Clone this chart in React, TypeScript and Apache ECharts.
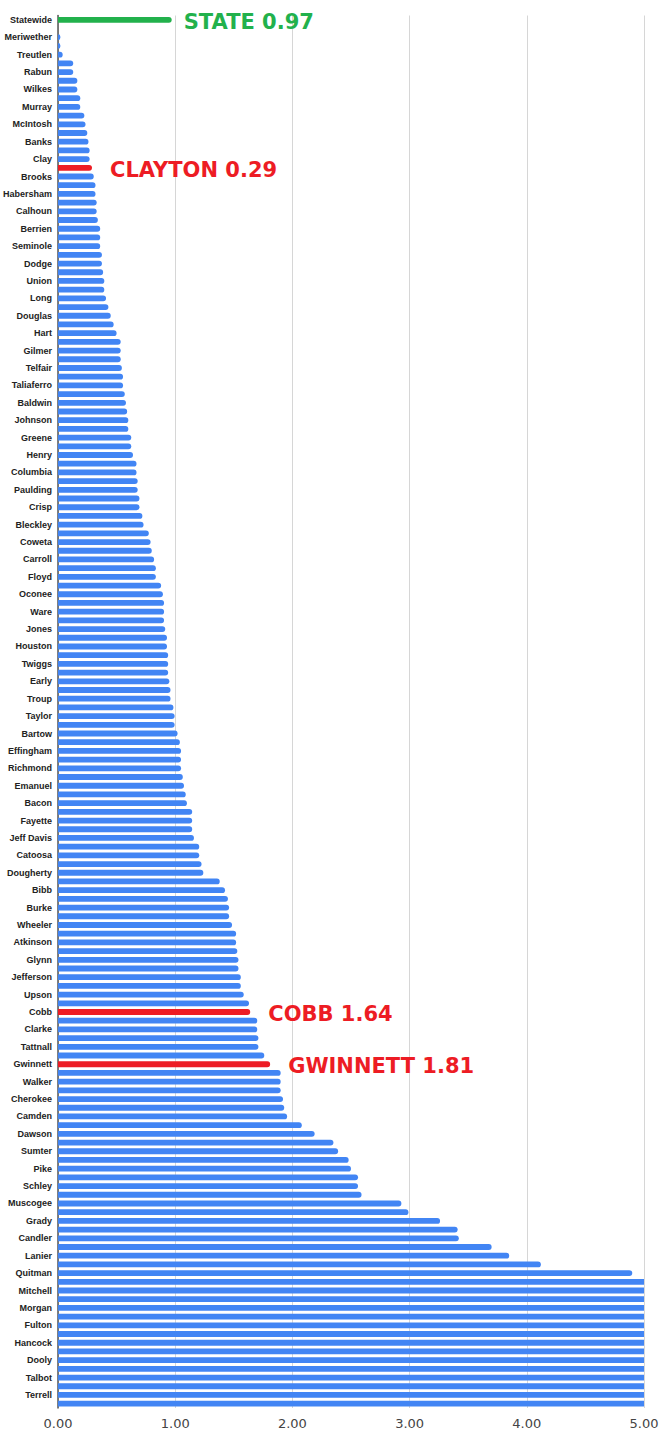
import { useEffect, useRef } from "react";
import * as echarts from "echarts";

// Category names shown on the axis (every other row)
const labeledNames = [
  "Statewide", "Meriwether", "Treutlen", "Rabun", "Wilkes", "Murray", "McIntosh", "Banks", "Clay", "Brooks",
  "Habersham", "Calhoun", "Berrien", "Seminole", "Dodge", "Union", "Long", "Douglas", "Hart", "Gilmer",
  "Telfair", "Taliaferro", "Baldwin", "Johnson", "Greene", "Henry", "Columbia", "Paulding", "Crisp", "Bleckley",
  "Coweta", "Carroll", "Floyd", "Oconee", "Ware", "Jones", "Houston", "Twiggs", "Early", "Troup",
  "Taylor", "Bartow", "Effingham", "Richmond", "Emanuel", "Bacon", "Fayette", "Jeff Davis", "Catoosa", "Dougherty",
  "Bibb", "Burke", "Wheeler", "Atkinson", "Glynn", "Jefferson", "Upson", "Cobb", "Clarke", "Tattnall",
  "Gwinnett", "Walker", "Cherokee", "Camden", "Dawson", "Sumter", "Pike", "Schley", "Muscogee", "Grady",
  "Candler", "Lanier", "Quitman", "Mitchell", "Morgan", "Fulton", "Hancock", "Dooly", "Talbot", "Terrell",
];

// Category names of the in-between rows (labels hidden by the axis interval)
const otherNames = [
  "Appling", "Baker", "Barrow", "Ben Hill", "Brantley", "Bryan", "Bulloch", "Butts", "Clayton", "Charlton",
  "Chatham", "Chattahoochee", "Chattooga", "Clinch", "Coffee", "Colquitt", "Cook", "Crawford", "Dade", "Decatur",
  "DeKalb", "Echols", "Elbert", "Evans", "Fannin", "Forsyth", "Franklin", "Glascock", "Gordon", "Hall",
  "Haralson", "Harris", "Heard", "Irwin", "Jackson", "Jasper", "Jenkins", "Lamar", "Laurens", "Lee",
  "Liberty", "Lincoln", "Lowndes", "Lumpkin", "Macon", "Madison", "Marion", "McDuffie", "Miller", "Monroe",
  "Montgomery", "Newton", "Oglethorpe", "Peach", "Pickens", "Pierce", "Polk", "Pulaski", "Putnam", "Randolph",
  "Rockdale", "Screven", "Spalding", "Stephens", "Stewart", "Tift", "Toombs", "Towns", "Turner", "Warren",
  "Washington", "Wayne", "Webster", "White", "Whitfield", "Wilcox", "Wilkinson", "Worth", "Walton", "Thomas",
];

// Values in row order (top to bottom)
const rates = [
  0.97, 0, 0.02, 0.02, 0.04, 0.13, 0.13, 0.165, 0.165, 0.19,
  0.19, 0.225, 0.235, 0.25, 0.26, 0.27, 0.27, 0.29, 0.305, 0.32,
  0.32, 0.33, 0.33, 0.34, 0.36, 0.36, 0.36, 0.375, 0.375, 0.385,
  0.395, 0.395, 0.41, 0.43, 0.45, 0.475, 0.5, 0.535, 0.535, 0.535,
  0.545, 0.555, 0.555, 0.57, 0.58, 0.59, 0.6, 0.6, 0.625, 0.625,
  0.64, 0.67, 0.67, 0.68, 0.68, 0.695, 0.695, 0.72, 0.73, 0.775,
  0.79, 0.8, 0.82, 0.835, 0.835, 0.88, 0.895, 0.905, 0.905, 0.905,
  0.915, 0.93, 0.93, 0.94, 0.94, 0.94, 0.95, 0.96, 0.96, 0.985,
  0.995, 0.995, 1.02, 1.04, 1.05, 1.05, 1.05, 1.065, 1.075, 1.09,
  1.1, 1.145, 1.145, 1.145, 1.16, 1.205, 1.205, 1.225, 1.24, 1.38,
  1.425, 1.45, 1.46, 1.46, 1.485, 1.52, 1.52, 1.53, 1.54, 1.54,
  1.56, 1.56, 1.585, 1.63, 1.64, 1.7, 1.7, 1.71, 1.71, 1.76,
  1.81, 1.9, 1.9, 1.9, 1.92, 1.93, 1.955, 2.08, 2.19, 2.35,
  2.39, 2.48, 2.5, 2.56, 2.56, 2.59, 2.93, 2.99, 3.26, 3.41,
  3.42, 3.7, 3.85, 4.12, 4.9, 5, 5, 5, 5, 5,
  5, 5, 5, 5, 5, 5, 5, 5, 5, 5,
];

const calloutNames = ["Statewide", "Clayton", "Cobb", "Gwinnett"];
const calloutTexts = ["STATE 0.97", "CLAYTON 0.29", "COBB 1.64", "GWINNETT 1.81"];

const axisMin = 0;
const axisMax = 5;
const axisStep = 1;

const categories = labeledNames.flatMap((n, i) => [n, otherNames[i]]);

const BLUE = "#4285F4";
const RED = "#ED1C24";
const GREEN = "#22B14C";

export default function App() {
  const ref = useRef<HTMLDivElement>(null);
  useEffect(() => {
    document.body.style.margin = "0";
    const chart = echarts.init(ref.current!, null, { renderer: "svg" });
    const data = rates.map((v, i) => {
      const name = categories[i];
      const ci = calloutNames.indexOf(name);
      const item: any = { value: v };
      if (v >= axisMax) item.itemStyle = { borderRadius: 0 };
      if (ci >= 0) {
        const color = ci === 0 ? GREEN : RED;
        item.itemStyle = { color };
        item.label = {
          show: true,
          formatter: calloutTexts[ci],
          color,
          fontSize: 21,
          fontWeight: "bold",
          fontFamily: "DejaVu Sans",
          position: "right",
          distance: ci === 0 ? 12 : 18,
          offset: [0, 2],
        };
      }
      return item;
    });
    chart.setOption({
      animation: false,
      grid: { left: 58, right: 19, top: 15.5, bottom: 24 },
      xAxis: {
        type: "value",
        min: axisMin,
        max: axisMax,
        interval: axisStep,
        axisLine: { show: false },
        axisTick: { show: false },
        splitLine: { lineStyle: { color: "#d6d6d6", width: 1 } },
        axisLabel: {
          formatter: (v: number) => v.toFixed(2),
          fontFamily: "DejaVu Sans",
          fontSize: 13,
          color: "#444",
          margin: 9,
        },
      },
      yAxis: {
        type: "category",
        inverse: true,
        data: categories,
        axisLine: { lineStyle: { color: "#555", width: 1.5 } },
        axisTick: { show: false },
        axisLabel: {
          interval: 1,
          fontSize: 9,
          fontWeight: "bold",
          fontFamily: "Liberation Sans",
          color: "#222",
          margin: 6,
        },
      },
      series: [
        {
          type: "bar",
          data,
          barWidth: 5.8,
          silent: true,
          itemStyle: { color: BLUE, borderRadius: [0, 2.9, 2.9, 0] },
        },
      ],
    });
    return () => chart.dispose();
  }, []);
  return <div ref={ref} style={{ width: 663, height: 1432 }} />;
}
